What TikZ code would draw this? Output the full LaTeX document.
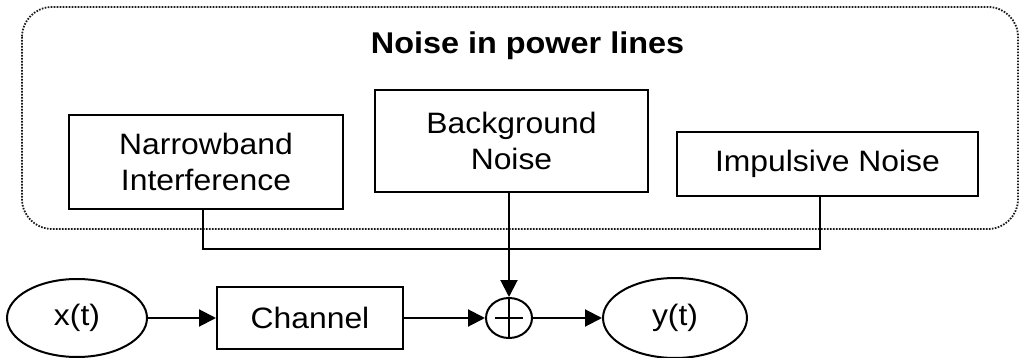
\documentclass[tikz,border=0pt]{standalone}
\usepackage{fontspec}
\setmainfont{Liberation Sans}[FakeStretch=1.08]
\usetikzlibrary{arrows.meta,shapes.geometric}

\begin{document}
\begin{tikzpicture}[x=1pt,y=-1pt,
  every node/.style={font=\fontsize{29.5}{36}\selectfont},
  blockbox/.style={draw, line width=2pt, rectangle, inner sep=0pt, align=center},
  sigoval/.style={draw, line width=2pt, ellipse, inner sep=0pt},
  wire/.style={line width=2pt},
  arr/.style={line width=2pt, -{Triangle[length=17pt,width=17pt]}},
  frame/.style={line width=1.8pt, black!90, dash pattern=on 1.6pt off 1.4pt, rounded corners=30pt}]
  \useasboundingbox (0,0) rectangle (1020,358);

  % grouping frame for the noise sources
  \draw[frame] (22,7) rectangle (1018,229);
  \node[font=\bfseries\fontsize{30}{36}\selectfont] (title) at (527.5,46) {Noise in power lines};

  % noise sources
  \node[blockbox, minimum width=274pt, minimum height=94pt] (nb) at (206,162) {Narrowband\\Interference};
  \node[blockbox, minimum width=273pt, minimum height=102pt] (bg) at (511.5,141) {Background\\Noise};
  \node[blockbox, minimum width=301pt, minimum height=64pt] (imp) at (827.5,164) {Impulsive Noise};

  % signal path
  \node[sigoval, minimum width=140pt, minimum height=78pt] (x) at (77,318) {x(t)};
  \node[blockbox, minimum width=186pt, minimum height=62pt] (ch) at (310,318) {Channel};
  \node[draw, line width=2pt, ellipse, inner sep=0pt, minimum width=46pt, minimum height=40pt,
        path picture={
          \draw[line width=2pt] ([xshift=-14pt]path picture bounding box.center) -- ([xshift=14pt]path picture bounding box.center);
          \draw[line width=2pt] (path picture bounding box.north) -- (path picture bounding box.south);
        }] (plus) at (509,318) {};
  \node[sigoval, minimum width=144pt, minimum height=80pt] (y) at (675,318) {y(t)};

  % noise bus into the adder
  \coordinate (bus) at (509,249);
  \draw[wire] ([xshift=-3pt]nb.south) |- (bus) -| ([xshift=-7.5pt]imp.south);
  \draw[arr] (bg.south -| plus.north) -- (plus.north);

  \draw[arr] (x.east) -- (ch.west);
  \draw[arr] (ch.east) -- (plus.west);
  \draw[arr] (plus.east) -- (y.west);
\end{tikzpicture}
\end{document}
